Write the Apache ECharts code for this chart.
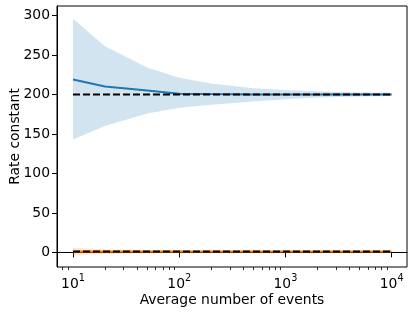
<!DOCTYPE html>
<html>
<head>
<meta charset="utf-8">
<script src="https://cdn.jsdelivr.net/npm/echarts@6/dist/echarts.min.js"></script>
<style>html,body{margin:0;padding:0;background:#fff;}#c{width:415px;height:313px;}</style>
</head>
<body>
<div id="c"></div>
<script>
// Average number of events (x)
const events = [10, 20, 50, 100, 200, 500, 1000, 2000, 5000, 10000];
// Rate 1 (blue): estimated mean and band
const rate1Mean  = [219, 210, 205, 201, 200.5, 200, 200, 200, 200, 200];
const rate1Upper = [296, 261, 234, 221, 214, 208, 205.5, 204, 202.5, 202];
const rate1Lower = [143, 160, 176, 183, 187, 191, 194, 196, 197.5, 198];
// Rate 2 (orange): estimated mean and band
const rate2Mean  = [1, 1, 1, 1, 1, 1, 1, 1, 1, 1];
const rate2Upper = [5.5, 4, 3, 2.5, 2, 1.7, 1.5, 1.4, 1.3, 1.2];
const rate2Lower = [-3.5, -2, -1, -0.5, 0, 0.3, 0.5, 0.6, 0.7, 0.8];
// True rates (dashed)
const trueRates = [200, 1];
const trueRange = [10, 10000];
// Ticks
const yTicks = [0, 50, 100, 150, 200, 250, 300];
const xMajor = [10, 100, 1000, 10000];
const xMinor = [8, 9, 20, 30, 40, 50, 60, 70, 80, 90, 200, 300, 400, 500, 600, 700, 800, 900,
                2000, 3000, 4000, 5000, 6000, 7000, 8000, 9000];

const FONT = 'DejaVu Sans';
const FS = 13.9;
const BLUE = '#1f77b4', ORANGE = '#ff7f0e';

function pairs(xs, ys) { return xs.map((x, i) => [x, ys[i]]); }

function band(upper, lower, color) {
  return {
    type: 'custom', silent: true, z: 1,
    data: [0],
    renderItem: function (params, api) {
      const pts = [];
      for (let i = 0; i < events.length; i++) pts.push(api.coord([events[i], upper[i]]));
      for (let i = events.length - 1; i >= 0; i--) pts.push(api.coord([events[i], lower[i]]));
      return {
        type: 'polygon',
        shape: { points: pts },
        style: { fill: color, opacity: 0.2 }
      };
    }
  };
}

const series = [
  band(rate1Upper, rate1Lower, BLUE),
  band(rate2Upper, rate2Lower, ORANGE),
  { type: 'line', data: pairs(events, rate1Mean), symbol: 'none', lineStyle: { color: BLUE, width: 2 }, z: 3 },
  { type: 'line', data: pairs(events, rate2Mean), symbol: 'none', lineStyle: { color: ORANGE, width: 2 }, z: 3 },
  ...trueRates.map(r => ({
    type: 'line', data: trueRange.map(x => [x, r]), symbol: 'none',
    lineStyle: { color: '#000', width: 2, type: [7, 3] }, z: 4
  }))
];

const chart = echarts.init(document.getElementById('c'), null, { renderer: 'canvas' });
chart.setOption({
  animation: false,
  textStyle: { fontFamily: FONT },
  grid: { left: 57, top: 6, width: 350, height: 261, show: true, borderColor: '#000', borderWidth: 1,
          backgroundColor: 'transparent', containLabel: false, outerBoundsMode: 'none' },
  xAxis: [
    {
      type: 'log', min: 7.07, max: 13940,
      name: 'Average number of events', nameLocation: 'middle', nameGap: 26, nameMoveOverlap: false,
      nameTextStyle: { fontFamily: FONT, fontSize: FS, color: '#000' },
      axisLine: { show: true, lineStyle: { color: '#000', width: 1 } },
      axisTick: { show: true, length: 5, lineStyle: { color: '#000', width: 1 }, customValues: xMajor },
      axisLabel: {
        customValues: xMajor, margin: 6, color: '#000',
        formatter: v => '{b|10}{s|' + Math.round(Math.log10(v)) + '}',
        rich: {
          b: { fontFamily: FONT, fontSize: FS, color: '#000', lineHeight: 18, verticalAlign: 'bottom' },
          s: { fontFamily: FONT, fontSize: 9.7, color: '#000', lineHeight: 18, verticalAlign: 'top' }
        }
      },
      splitLine: { show: false }, minorTick: { show: false }
    },
    {
      type: 'log', min: 7.07, max: 13940, position: 'bottom', gridIndex: 0,
      axisLine: { show: false },
      axisTick: { show: true, length: 3, lineStyle: { color: '#000', width: 0.8 }, customValues: xMinor },
      axisLabel: { show: false },
      splitLine: { show: false }
    }
  ],
  yAxis: {
    type: 'value', min: -18.5, max: 312,
    name: 'Rate constant', nameLocation: 'middle', nameGap: 35, nameMoveOverlap: false,
    nameTextStyle: { fontFamily: FONT, fontSize: FS, color: '#000' },
    axisLine: { show: true, lineStyle: { color: '#000', width: 1 } },
    axisTick: { show: true, length: 5, lineStyle: { color: '#000', width: 1 }, customValues: yTicks },
    axisLabel: { customValues: yTicks, margin: 7, color: '#000', fontFamily: FONT, fontSize: FS },
    splitLine: { show: false }
  },
  series: series
});
</script>
</body>
</html>
